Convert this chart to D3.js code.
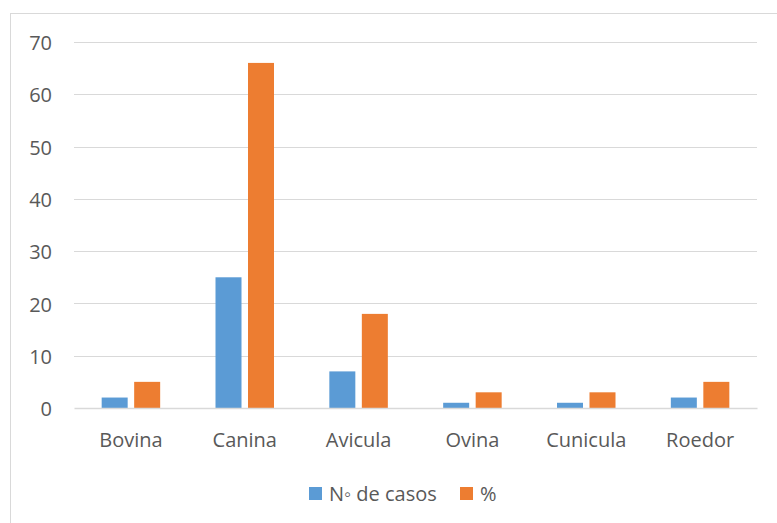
<!DOCTYPE html>
<html>
<head>
<meta charset="utf-8">
<script src="https://cdn.jsdelivr.net/npm/d3@7"></script>
<style>
  body { margin: 0; background: #fff; }
  text { font-family: "Open Sans", "Liberation Sans", sans-serif; fill: #595959; }
</style>
</head>
<body>
<svg id="drawing_region"></svg>
<script>
// datos del gráfico
const categories = ["Bovina", "Canina", "Avicula", "Ovina", "Cunicula", "Roedor"];
const seriesNames = ["N\u25E6 de casos", "%"];
const casos = [2, 25, 7, 1, 1, 2];
const porcentaje = [5, 66, 18, 3, 3, 5];
const yTicks = [0, 10, 20, 30, 40, 50, 60, 70];
const colors = ["#5B9BD5", "#ED7D31"];

const width = 777;
const height = 523;
const margin = {top: 42, right: 20, bottom: 115, left: 74};
const fontSize = '20px';

const svg = d3.select('#drawing_region')
    .attr('width', width)
    .attr('height', height);

// marco exterior
svg.append('rect')
    .attr('x', 10.5).attr('y', 13.5)
    .attr('width', 780).attr('height', 520)
    .attr('fill', 'none')
    .attr('stroke', '#D9D9D9');

const inner_width = 757 - margin.left;
const inner_height = 408 - margin.top;

const chart = svg.append('g')
    .attr('transform', `translate(${margin.left}, ${margin.top})`);

const yscale = d3.scaleLinear()
    .domain([0, 70])
    .range([inner_height, 0]);

const xscale = d3.scaleBand()
    .domain(categories)
    .range([0, inner_width]);

// ancho de barra ~26px, separación ~7px
const barW = 26, barGap = 6.5;
const sub = d3.scaleOrdinal()
    .domain([0, 1])
    .range([-barGap / 2 - barW, barGap / 2]);

// líneas de cuadrícula
chart.append('g')
    .selectAll('line')
    .data(yTicks.filter(d => d > 0))
    .enter()
    .append('line')
    .attr('x1', 0)
    .attr('x2', inner_width)
    .attr('y1', d => Math.round(yscale(d)) + 0.5)
    .attr('y2', d => Math.round(yscale(d)) + 0.5)
    .attr('stroke', '#D9D9D9')
    .attr('stroke-width', 1);

// eje Y
const yaxis = d3.axisLeft(yscale)
    .tickValues(yTicks)
    .tickSize(0)
    .tickPadding(22);
const yaxis_group = chart.append('g').call(yaxis);
yaxis_group.select('.domain').remove();
yaxis_group.selectAll('text')
    .attr('font-size', fontSize)
    .attr('dy', '0.38em')
    .style('fill', '#595959');

// barras
const series = [casos, porcentaje];
series.forEach((vals, si) => {
  chart.append('g')
      .selectAll('rect')
      .data(categories.map((c, i) => ({label: c, value: vals[i]})))
      .enter()
      .append('rect')
      .attr('x', d => xscale(d.label) + xscale.bandwidth() / 2 + sub(si))
      .attr('y', d => yscale(d.value))
      .attr('width', barW)
      .attr('height', d => inner_height - yscale(d.value))
      .attr('fill', colors[si]);
});

// eje X
const xaxis = d3.axisBottom(xscale)
    .tickSize(0)
    .tickPadding(25);
const xaxis_group = chart.append('g')
    .attr('transform', `translate(0, ${inner_height})`)
    .call(xaxis);
xaxis_group.select('.domain')
    .attr('stroke', '#D9D9D9')
    .attr('stroke-width', 1.5);
xaxis_group.selectAll('text')
    .attr('font-size', fontSize)
    .style('fill', '#595959');

// leyenda
const legend = svg.append('g').attr('transform', 'translate(309, 487)');
const legendX = [0, 151];
seriesNames.forEach((name, i) => {
  const g = legend.append('g').attr('transform', `translate(${legendX[i]}, 0)`);
  g.append('rect')
      .attr('width', 13).attr('height', 13)
      .attr('fill', colors[i]);
  g.append('text')
      .attr('x', 20).attr('y', 7)
      .attr('dy', '0.35em')
      .attr('font-size', fontSize)
      .text(name);
});
</script>
</body>
</html>
